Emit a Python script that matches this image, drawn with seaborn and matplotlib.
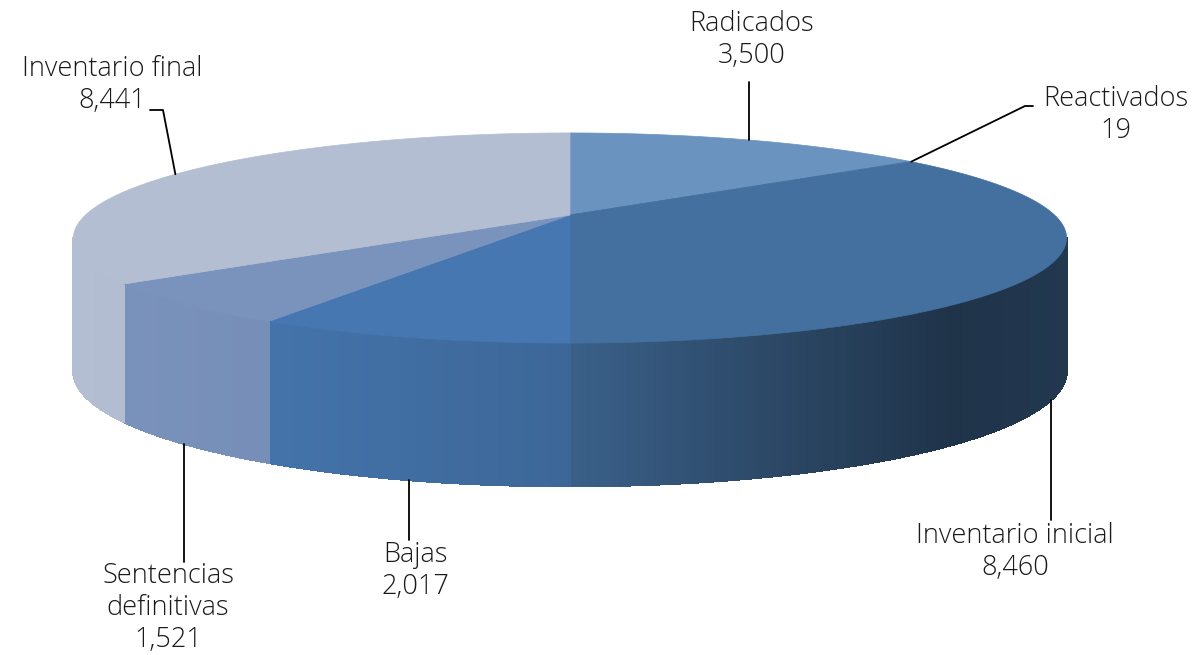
import numpy as np
import matplotlib.pyplot as plt
import seaborn as sns
from matplotlib.collections import PolyCollection
from matplotlib.colors import to_rgb

sns.set_theme(style="white")
plt.rcParams['font.family'] = ['Open Sans', 'DejaVu Sans']

# data
labels = ['Radicados', 'Reactivados', 'Inventario inicial', 'Bajas',
          'Sentencias\ndefinitivas', 'Inventario final']
values = [3500, 19, 8460, 2017, 1521, 8441]
colors = ['#6b93bf', '#5c86b8', '#44709f', '#4677b0', '#7a93bd', '#b4bed2']

# pie geometry (pixels, perspective tilt)
CX, CY = 570, 215
P, Q, K = 484.5, 100, 0.219
D0, KD = 130.4, 0.088


def project(theta, drop=False):
    t = np.radians(theta)
    u, v = np.sin(t), np.cos(t)
    den = 1 + K * v
    x = CX + P * u / den
    y = CY - Q * v / den
    if drop:
        y = y + D0 / (1 + KD * v)
    return x, y


def shade(x):
    return np.interp(x, [75, 270, 570, 700, 950, 1068],
                     [1.0, 0.97, 0.86, 0.72, 0.46, 0.5])


vals = np.array(values, dtype=float)
edges = np.concatenate([[0], np.cumsum(vals) / vals.sum() * 360])
sil = np.degrees(np.arccos(-K))

fig = plt.figure(figsize=(12, 6.55), dpi=100)
ax = fig.add_axes([0, 0, 1, 1])
ax.set_xlim(0, 1200)
ax.set_ylim(655, 0)
ax.axis('off')

# side walls, shaded darker to the right
for i, c in enumerate(colors):
    a0, a1 = max(edges[i], sil), min(edges[i + 1], 360 - sil)
    if a1 <= a0:
        continue
    th = np.linspace(a0, a1, max(int((a1 - a0) * 3), 2))
    xt, yt = project(th)
    xb, yb = project(th, drop=True)
    polys, fcs = [], []
    base = np.array(to_rgb(c))
    for j in range(len(th) - 1):
        polys.append([(xt[j], yt[j]), (xt[j + 1], yt[j + 1]),
                      (xb[j + 1], yb[j + 1]), (xb[j], yb[j])])
        fcs.append(np.clip(base * shade((xt[j] + xt[j + 1]) / 2), 0, 1))
    ax.add_collection(PolyCollection(polys, facecolors=fcs, edgecolors=fcs,
                                     linewidths=1.2, antialiased=False))

# top faces
for i, c in enumerate(colors):
    th = np.linspace(edges[i], edges[i + 1], max(int((edges[i + 1] - edges[i]) * 2), 2))
    x, y = project(th)
    ax.fill(np.r_[CX, x], np.r_[CY, y], color=c, lw=0.5, ec=c)

# labels and leader lines
mids = (edges[:-1] + edges[1:]) / 2
mids[1] = edges[2]
on_wall = [False, False, True, True, True, False]
text_pos = [(752, 40), (1116, 115), (1015, 552), (415, 571), (168, 608), (112, 85)]
line_end = [[(748, 82)], [(1025, 106), (1033, 106)], [(1047, 520)],
            [(413, 540)], [(190, 562)], [(163, 110), (150, 110)]]

for i, lab in enumerate(labels):
    sx, sy = project(mids[i], drop=on_wall[i])
    if on_wall[i] or i == 0:
        pts = [(sx, sy)] + [(sx, p[1]) for p in line_end[i]]
    else:
        pts = [(sx, sy)] + line_end[i]
    px, py = zip(*pts)
    ax.plot(px, py, color='black', lw=1.3)
    ax.text(text_pos[i][0], text_pos[i][1], f"{lab}\n{values[i]:,}",
            ha='center', va='center', fontsize=19.5, fontweight='light',
            linespacing=1.2, color='#1a1a1a')

fig.savefig('out.png', dpi=100)
